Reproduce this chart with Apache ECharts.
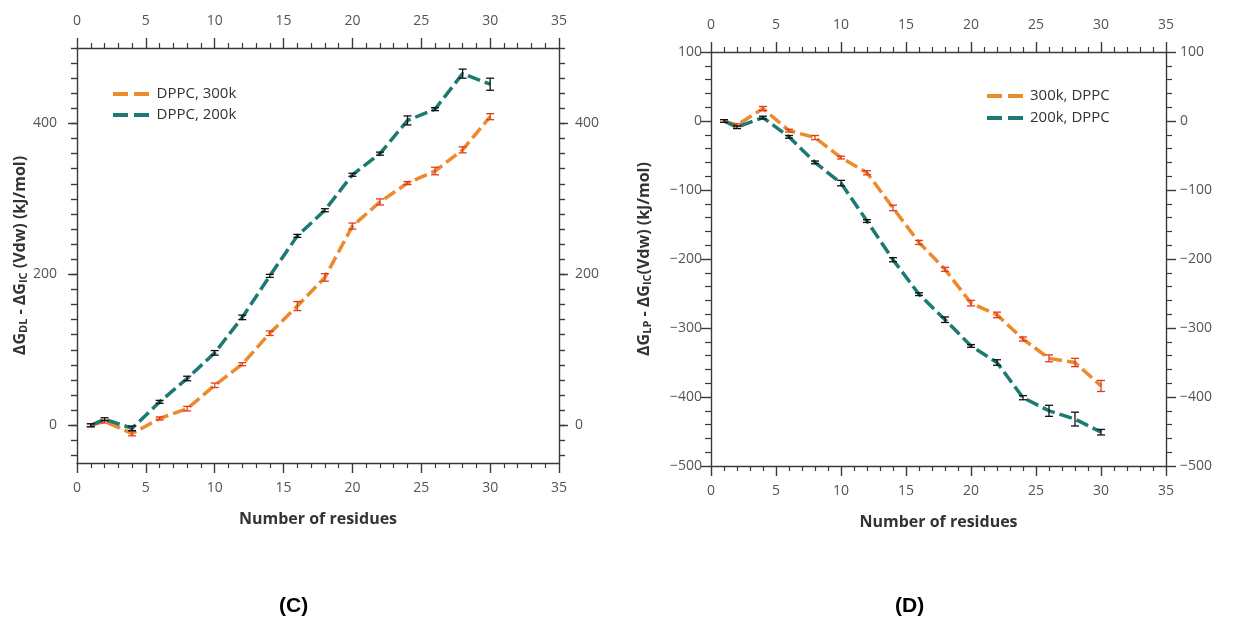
<!DOCTYPE html>
<html>
<head>
<meta charset="utf-8">
<script src="https://cdn.jsdelivr.net/npm/echarts@6/dist/echarts.min.js"></script>
<style>
  html, body { margin: 0; padding: 0; background: #fff; }
  #chart { width: 1236px; height: 619px; }
</style>
</head>
<body>
<div id="chart"></div>
<script>
// residues sampled
var residues = [1, 2, 4, 6, 8, 10, 12, 14, 16, 18, 20, 22, 24, 26, 28, 30];

// panel C: dG_DL - dG_IC (Vdw)
var c300 = [0, 5, -11, 9, 22, 53, 81, 122, 158, 196, 264, 296, 321, 337, 365, 409];
var c300Err = [2, 2, 3, 2, 3, 3, 2, 3, 6, 5, 4, 4, 2, 5, 4, 4];
var c200 = [0, 8, -4, 31, 62, 96, 143, 198, 251, 285, 332, 360, 404, 419, 466, 452];
var c200Err = [2, 2, 3, 2, 3, 3, 3, 2, 2, 2, 2, 2, 6, 2, 6, 8];

// panel D: dG_LP - dG_IC (Vdw)
var d300 = [0, -6, 18, -14, -24, -53, -75, -126, -176, -215, -264, -281, -316, -344, -350, -384];
var d300Err = [2, 2, 3, 2, 3, 2, 3, 4, 3, 3, 4, 4, 3, 5, 6, 8];
var d200 = [0, -9, 5, -23, -60, -90, -145, -201, -251, -288, -326, -350, -401, -420, -432, -451];
var d200Err = [2, 2, 2, 2, 2, 4, 2, 3, 2, 4, 2, 4, 3, 8, 10, 4];

var cLabels = [0, 200, 400];

var ORANGE = '#ec8a2c';
var TEAL = '#1d7a73';
var FONT = 'Open Sans';
// two dashes, used as legend key
var DASH_ICON = 'path://M0,0H15V4H0Z M21,0H36V4H21Z';

var chart = echarts.init(document.getElementById('chart'), null, { renderer: 'canvas' });

function pairs(ys) {
    return residues.map(function (x, i) { return [x, ys[i]]; });
}
function errData(ys, es) {
    return residues.map(function (x, i) { return [x, ys[i] - es[i], ys[i] + es[i]]; });
}

function errorBars(color) {
    return function (params, api) {
        var x = api.value(0);
        var lo = api.coord([x, api.value(1)]);
        var hi = api.coord([x, api.value(2)]);
        var w = 4;
        var st = { stroke: color, lineWidth: 1.3 };
        return {
            type: 'group',
            children: [
                { type: 'line', shape: { x1: lo[0], y1: lo[1], x2: hi[0], y2: hi[1] }, style: st },
                { type: 'line', shape: { x1: lo[0] - w, y1: lo[1], x2: lo[0] + w, y2: lo[1] }, style: st },
                { type: 'line', shape: { x1: hi[0] - w, y1: hi[1], x2: hi[0] + w, y2: hi[1] }, style: st }
            ]
        };
    };
}

var axisLineStyle = { color: '#3a3a3a', width: 1.4 };
var labelStyle = { color: '#555', fontSize: 14, fontFamily: FONT };
var minus = function (v) { return String(v).replace('-', '\u2212'); };

function xAxis(grid, pos, withName) {
    return {
        type: 'value', gridIndex: grid, position: pos,
        min: 0, max: 35, interval: 5,
        name: withName ? 'Number of residues' : '',
        nameLocation: 'middle', nameGap: 48,
        nameTextStyle: { color: '#333', fontSize: 16, fontWeight: 'bold', fontFamily: FONT },
        axisLine: { show: true, onZero: false, lineStyle: axisLineStyle },
        axisTick: { show: true, length: 10, lineStyle: axisLineStyle },
        minorTick: { show: true, splitNumber: 5, length: 5, lineStyle: { color: '#3a3a3a', width: 1.2 } },
        axisLabel: Object.assign({ margin: pos === 'top' ? 20 : 18 }, labelStyle),
        splitLine: { show: false }
    };
}

function rich() {
    return {
        b: { fontSize: 16, fontWeight: 'bold', fontFamily: FONT, color: '#333' },
        s: { fontSize: 11, fontWeight: 'bold', fontFamily: FONT, color: '#333', verticalAlign: 'bottom', padding: [7, 0, 0, 0] }
    };
}

// panel C y axes: labels/major ticks + minor ticks every 20
var cMinor = [];
for (var v = -40; v <= 500; v += 20) cMinor.push(v);

function cAxis(pos, major, withName) {
    return {
        type: 'value', gridIndex: 0, position: pos,
        min: -50, max: 500,
        name: withName ? '{b|ΔG}{s|DL}{b| - ΔG}{s|IC}{b| (Vdw) (kJ/mol)}' : '',
        nameLocation: 'middle', nameGap: 43,
        nameTextStyle: { rich: rich() },
        axisLine: { show: major, onZero: false, lineStyle: axisLineStyle },
        axisTick: { show: true, length: major ? 9 : 6, customValues: major ? cLabels : cMinor, lineStyle: axisLineStyle },
        axisLabel: Object.assign({ show: major, customValues: cLabels, margin: pos === 'left' ? 20 : 16 }, labelStyle),
        splitLine: { show: false }
    };
}

function dAxis(pos, withName) {
    return {
        type: 'value', gridIndex: 1, position: pos,
        min: -500, max: 100, interval: 100,
        name: withName ? '{b|ΔG}{s|LP}{b| - ΔG}{s|IC}{b|(Vdw) (kJ/mol)}' : '',
        nameLocation: 'middle', nameGap: 58,
        nameTextStyle: { rich: rich() },
        axisLine: { show: true, onZero: false, lineStyle: axisLineStyle },
        axisTick: { show: true, length: 10, lineStyle: axisLineStyle },
        minorTick: { show: true, splitNumber: 5, length: 6, lineStyle: { color: '#3a3a3a', width: 1.2 } },
        axisLabel: Object.assign({ margin: pos === 'left' ? 9 : 14, formatter: minus }, labelStyle),
        splitLine: { show: false }
    };
}

function lineSeries(name, data, color, xi, yi) {
    return {
        name: name, type: 'line', xAxisIndex: xi, yAxisIndex: yi,
        data: pairs(data), symbol: 'none', z: 2,
        lineStyle: { color: color, width: 3.5, type: [13, 5] },
        itemStyle: { color: color }
    };
}
function errSeries(ys, es, color, xi, yi) {
    return {
        type: 'custom', xAxisIndex: xi, yAxisIndex: yi, z: 5,
        data: errData(ys, es), renderItem: errorBars(color), silent: true
    };
}

var legendText = { color: '#333', fontSize: 15, fontFamily: FONT, lineHeight: 20, padding: [0, 0, 0, 2] };

chart.setOption({
    animation: false,
    backgroundColor: '#fff',
    grid: [
        { left: 77, top: 48, width: 482, height: 415 },
        { left: 711, top: 52, width: 455, height: 414 }
    ],
    xAxis: [
        xAxis(0, 'bottom', true), xAxis(0, 'top', false),
        xAxis(1, 'bottom', true), xAxis(1, 'top', false)
    ],
    yAxis: [
        cAxis('left', true, true), cAxis('left', false, false),
        cAxis('right', true, false), cAxis('right', false, false),
        dAxis('left', true), dAxis('right', false)
    ],
    legend: [
        {
            data: ['DPPC, 300k', 'DPPC, 200k'], orient: 'vertical',
            left: 108, top: 79, itemWidth: 37, itemHeight: 4, itemGap: 1, icon: DASH_ICON,
            textStyle: legendText, selectedMode: false
        },
        {
            data: ['300k, DPPC', '200k, DPPC'], orient: 'vertical',
            left: 982, top: 81, itemWidth: 36, itemHeight: 4, itemGap: 2, icon: DASH_ICON,
            textStyle: legendText, selectedMode: false
        }
    ],
    series: [
        lineSeries('DPPC, 300k', c300, ORANGE, 0, 0),
        lineSeries('DPPC, 200k', c200, TEAL, 0, 0),
        errSeries(c300, c300Err, '#e03a1e', 0, 0),
        errSeries(c200, c200Err, '#111', 0, 0),
        lineSeries('300k, DPPC', d300, ORANGE, 2, 4),
        lineSeries('200k, DPPC', d200, TEAL, 2, 4),
        errSeries(d300, d300Err, '#e03a1e', 2, 4),
        errSeries(d200, d200Err, '#111', 2, 4)
    ],
    graphic: [
        { type: 'text', left: 279, top: 596, style: { text: '(C)', font: 'bold 21px "Liberation Sans"', fill: '#000' } },
        { type: 'text', left: 895, top: 596, style: { text: '(D)', font: 'bold 21px "Liberation Sans"', fill: '#000' } }
    ]
});
</script>
</body>
</html>
